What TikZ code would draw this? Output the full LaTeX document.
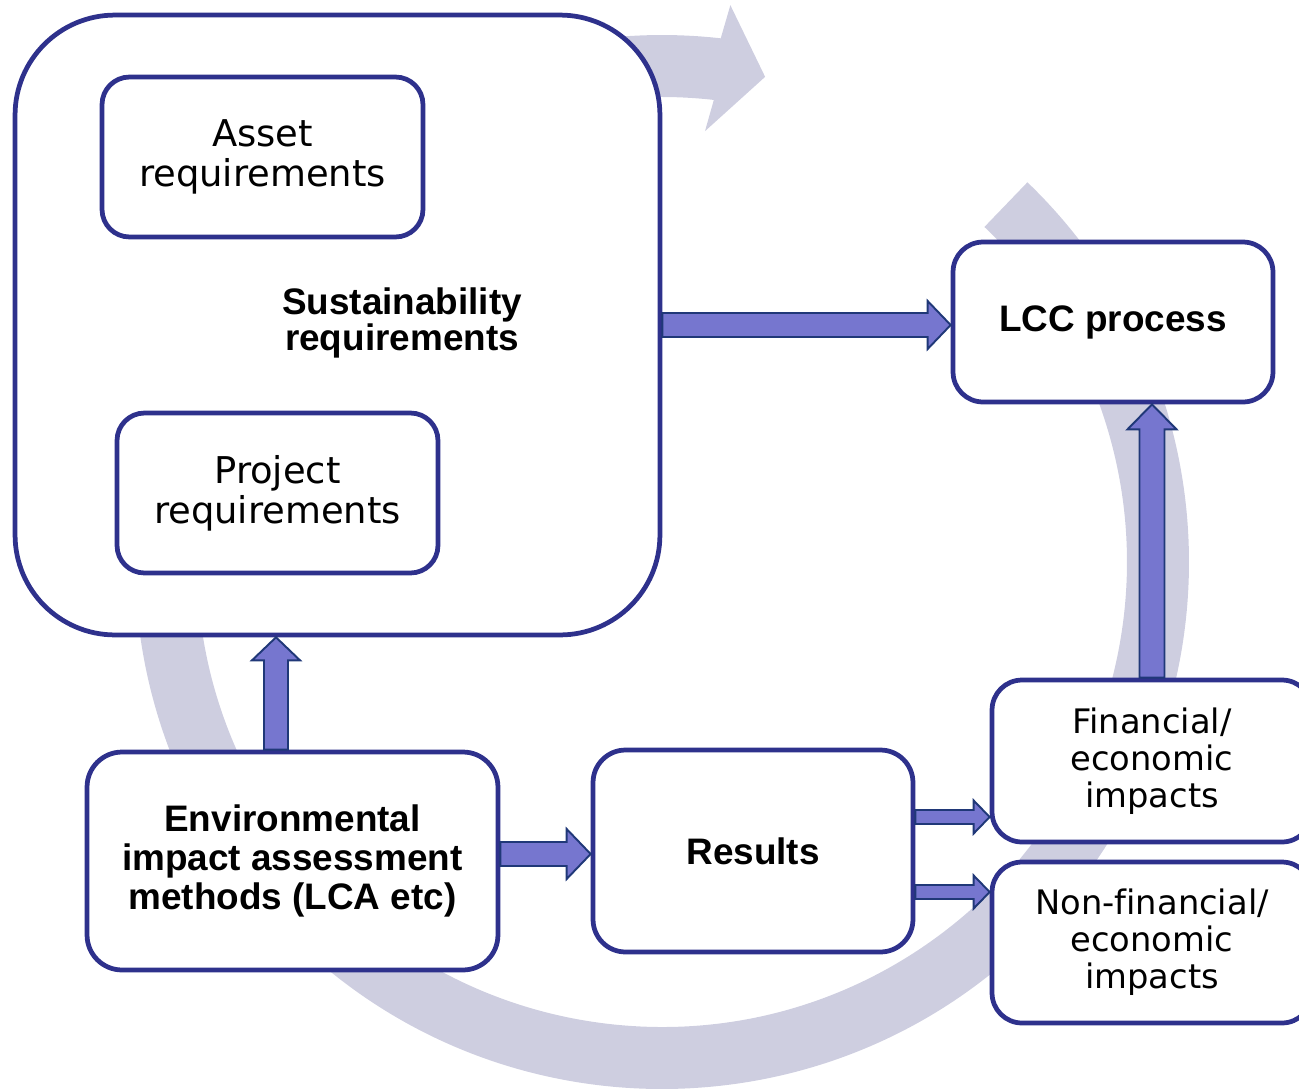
\documentclass[tikz,border=0pt]{standalone}
\usepackage{fontspec}
\setmainfont{DejaVu Sans}[Ligatures=CommonOff]
\newfontfamily\arialfont{Liberation Sans}
\usetikzlibrary{calc}
\definecolor{boxline}{RGB}{46,49,140}
\definecolor{ringfill}{RGB}{206,206,224}
\definecolor{arrowfill}{RGB}{118,118,207}
\definecolor{arrowline}{RGB}{32,56,120}

\begin{document}
\begin{tikzpicture}[x=0.02cm, y=0.02cm,
  box/.style={draw=boxline, line width=0.095cm, fill=white, rounded corners=0.55cm, align=center, inner sep=0pt},
  plain/.style={font=\fontsize{21}{22.7}\selectfont},
  small/.style={font=\fontsize{19.2}{21}\selectfont},
  heavy/.style={font=\arialfont\bfseries\fontsize{21}{22}\selectfont},
  fat/.style n args={3}{draw=arrowline, fill=arrowfill, line width=1.1pt,
    to path={let \p1=(\tikztostart), \p2=(\tikztotarget), \n1={atan2(\y2-\y1,\x2-\x1)} in
      ($(\p1)+(\n1+90:#1)$) -- ($(\p2)+(\n1+180:#3)+(\n1+90:#1)$)
      -- ($(\p2)+(\n1+180:#3)+(\n1+90:#2)$) -- (\p2)
      -- ($(\p2)+(\n1+180:#3)+(\n1-90:#2)$) -- ($(\p2)+(\n1+180:#3)+(\n1-90:#1)$)
      -- ($(\p1)+(\n1-90:#1)$) -- cycle}}]

\useasboundingbox (0, 0) rectangle (1299, -1089);

% big circular arrow behind everything
\begin{scope}[shift={(662, -562)}]
\fill [ringfill] (46.1:527) arc [start angle=46.1, end angle=-276.4, radius=527]
  -- (83.0:561) -- (78.0:496) -- (84.3:433) -- (83.6:465)
  arc [start angle=-276.4, end angle=46.1, radius=465] -- cycle;
\end{scope}

\node (1) [box, rounded corners=2cm, minimum width=12.9cm, minimum height=12.4cm] at (337.5, -325) {};
\node (2) [box, plain, minimum width=6.42cm, minimum height=3.2cm] at (262.5, -157) {Asset \\ requirements};
\node (3) [box, plain, minimum width=6.42cm, minimum height=3.2cm] at (277.5, -493) {Project \\ requirements};
\node (4) [align=center, font=\arialfont\bfseries\fontsize{21}{19.5}\selectfont] at (402, -323) {Sustainability \\ requirements};

\node (5) [box, heavy, rounded corners=0.6cm, minimum width=6.4cm, minimum height=3.2cm] at (1113, -322) {LCC process};

\node (6) [box, heavy, rounded corners=0.7cm, minimum width=8.22cm, minimum height=4.36cm] at (292.5, -861) {Environmental \\ impact assessment \\ methods (LCA etc)};
\node (7) [box, heavy, rounded corners=0.65cm, minimum width=6.4cm, minimum height=4.04cm] at (753, -851) {Results};

\node (8) [box, small, rounded corners=0.6cm, minimum width=6.4cm, minimum height=3.24cm] at (1152, -761) {Financial/ \\ economic \\ impacts};
\node (9) [box, small, rounded corners=0.6cm, minimum width=6.4cm, minimum height=3.22cm] at (1152, -942.5) {Non-financial/ \\ economic \\ impacts};

\draw [fat={12}{24}{23}] (1.east |- 0,-325) to (5.west |- 0,-325);
\draw [fat={12}{24}{23}] (276,0 |- 6.north) to (276,0 |- 1.south);
\draw [fat={12}{25}{24}] (6.east |- 0,-854) to (7.west |- 0,-854);
\draw [fat={7}{16.5}{16}] (7.east |- 0,-817) to (8.west |- 0,-817);
\draw [fat={7}{16.5}{16}] (7.east |- 0,-892) to (9.west |- 0,-892);
\draw [fat={12.5}{24.5}{25}] (8.north) to (8.north |- 5.south);

\end{tikzpicture}
\end{document}
